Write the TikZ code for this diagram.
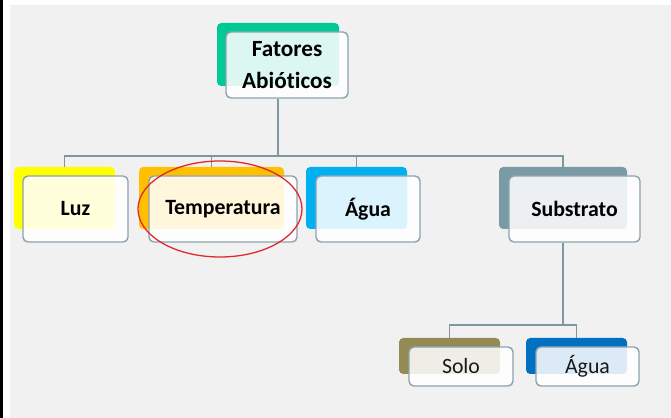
\documentclass[tikz,border=0pt]{standalone}
\usepackage{fontspec}
\setmainfont{Carlito}[Ligatures=NoCommon]
\usetikzlibrary{fit}
\definecolor{bggrey}{HTML}{F1F1F1}
\definecolor{mint}{HTML}{00C896}
\definecolor{lemon}{HTML}{FFFF00}
\definecolor{amber}{HTML}{FFC000}
\definecolor{sky}{HTML}{00B0F0}
\definecolor{slate}{HTML}{7A9AA6}
\definecolor{olive}{HTML}{948A54}
\definecolor{navy}{HTML}{0070C0}
\definecolor{boxline}{HTML}{8CA3AD}
\definecolor{linkcol}{HTML}{7F97A2}
\definecolor{redring}{HTML}{E0252B}

\tikzset{
  back/.style={fill=#1, rounded corners=3pt, inner sep=0pt},
  front/.style={draw=boxline, line width=1pt, fill=white, fill opacity=0.86,
    text opacity=1, rounded corners=3.5pt, inner sep=0pt},
  boxsize/.style 2 args={minimum width=#1*0.025cm, minimum height=#2*0.025cm},
  lvltwo/.style={front, font=\bfseries\fontsize{15.5}{18}\selectfont},
  lvlthree/.style={front, font=\fontsize{15.5}{18}\selectfont, text=black!90},
  link/.style={draw=linkcol, line width=1.2pt},
}

\begin{document}
\begin{tikzpicture}[x=0.025cm, y=-0.025cm]
    \useasboundingbox (0,0) rectangle (671,418);
    \fill[white] (0,0) rectangle (671,418);
    \fill[black] (0,0) rectangle (3,418);
    \fill[bggrey] (10,5) rectangle (671,418);

    \node[back=mint,  fit={(217,23) (339,86)}]   (fatb)   {};
    \node[back=lemon, fit={(14,167) (115,229)}]  (luzb)   {};
    \node[back=amber, fit={(139,167) (284,229)}] (tempb)  {};
    \node[back=sky,   fit={(306,167) (407,229)}] (aguab)  {};
    \node[back=slate, fit={(499,167) (627,229)}] (subb)   {};
    \node[back=olive, fit={(399,338) (500,374)}] (solob)  {};
    \node[back=navy,  fit={(526,338) (627,374)}] (agua2b) {};

    \node[front, boxsize={122}{66}, align=center,
      font=\bfseries\fontsize{16.5}{22.5}\selectfont] (fat) at (287,65) {Fatores\\Abióticos};
    \node[lvltwo, boxsize={105}{66}]   (luz)   at (75.5,209)  {Luz};
    \node[lvltwo, boxsize={148}{66}]   (temp)  at (223,209)   {Temperatura};
    \node[lvltwo, boxsize={104}{66}]   (agua)  at (368,209)   {Água};
    \node[lvltwo, boxsize={131}{66}]   (sub)   at (574.5,209) {Substrato};
    \node[lvlthree, boxsize={104}{39}] (solo)  at (461,366.5) {Solo};
    \node[lvlthree, boxsize={103}{39}] (agua2) at (587.5,366.5) {Água};

    \coordinate (bar1) at (0,156);
    \coordinate (bar2) at (0,325);
    \draw[link] (fatb |- fat.south) -- (fatb |- bar1);
    \draw[link] (luzb.north) |- (subb |- bar1) -- (subb.north);
    \draw[link] (tempb |- bar1) -- (tempb.north);
    \draw[link] (aguab |- bar1) -- (aguab.north);
    \draw[link] (subb |- sub.south) -- (subb |- bar2);
    \draw[link] (solob.north) |- (agua2b |- bar2) -- (agua2b.north);

    \draw[redring, line width=0.9pt] (220,209) ellipse [x radius=82, y radius=48];
\end{tikzpicture}
\end{document}
